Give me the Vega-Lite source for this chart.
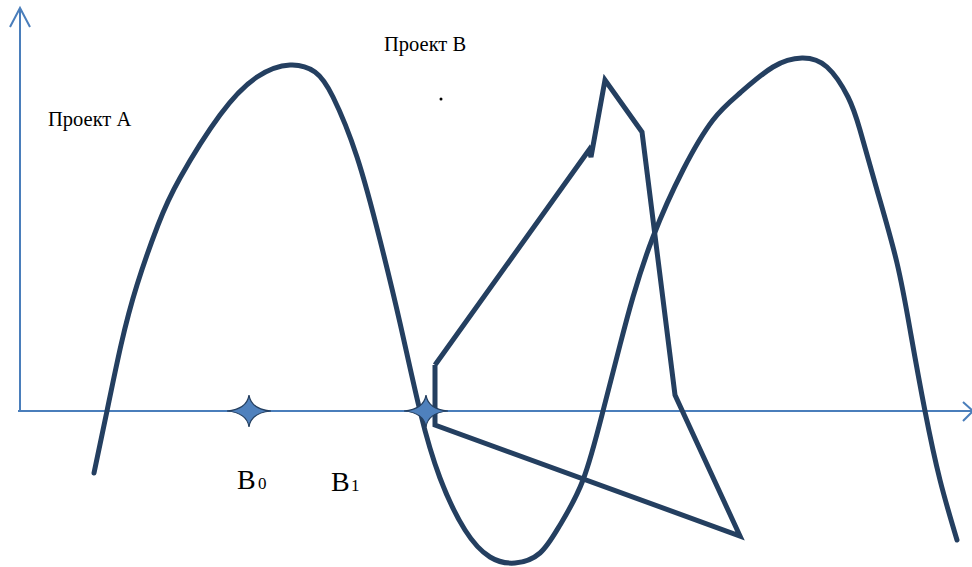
{
  "$schema": "https://vega.github.io/schema/vega-lite/v6.json",
  "width": 972,
  "height": 567,
  "padding": 0,
  "autosize": {"type": "none"},
  "config": {"view": {"stroke": null}},
  "datasets": {
    "axes": [
      {"g": "yaxis", "o": 1, "x": 20, "y": 0},
      {"g": "yaxis", "o": 2, "x": 20, "y": 403},
      {"g": "yarrow", "o": 1, "x": 10, "y": 384},
      {"g": "yarrow", "o": 2, "x": 20, "y": 403},
      {"g": "yarrow", "o": 3, "x": 30, "y": 384},
      {"g": "xaxis", "o": 1, "x": 18, "y": 0},
      {"g": "xaxis", "o": 2, "x": 974, "y": 0},
      {"g": "xarrow", "o": 1, "x": 963, "y": 9},
      {"g": "xarrow", "o": 2, "x": 973, "y": 0},
      {"g": "xarrow", "o": 3, "x": 963, "y": -10}
    ],
    "curveA": [
      {"x": 94, "y": -62}, {"x": 107, "y": 0}, {"x": 121, "y": 66}, {"x": 137, "y": 126},
      {"x": 158, "y": 186}, {"x": 180, "y": 233}, {"x": 220, "y": 296},
      {"x": 257, "y": 334}, {"x": 290, "y": 346}, {"x": 315, "y": 339},
      {"x": 333, "y": 314}, {"x": 357, "y": 254}, {"x": 380, "y": 171}, {"x": 400, "y": 88},
      {"x": 420, "y": 0}, {"x": 440, "y": -67}, {"x": 465, "y": -119}, {"x": 490, "y": -146},
      {"x": 515, "y": -152}, {"x": 540, "y": -142}, {"x": 560, "y": -114}, {"x": 583, "y": -69},
      {"x": 603, "y": 0}, {"x": 620, "y": 66}, {"x": 633, "y": 114}, {"x": 653, "y": 174},
      {"x": 683, "y": 241}, {"x": 713, "y": 291}, {"x": 740, "y": 318}, {"x": 773, "y": 344},
      {"x": 802, "y": 353}, {"x": 827, "y": 344}, {"x": 848, "y": 314}, {"x": 860, "y": 281},
      {"x": 877, "y": 221}, {"x": 897, "y": 148}, {"x": 911, "y": 76}, {"x": 925, "y": 0},
      {"x": 940, "y": -69}, {"x": 957, "y": -129}
    ],
    "polyB": [
      {"o": 1, "x": 435, "y": 46},
      {"o": 2, "x": 589, "y": 261},
      {"o": 3, "x": 591, "y": 254},
      {"o": 4, "x": 605, "y": 331},
      {"o": 5, "x": 642, "y": 279},
      {"o": 6, "x": 675, "y": 16},
      {"o": 7, "x": 740, "y": -125},
      {"o": 8, "x": 435, "y": -14},
      {"o": 9, "x": 435, "y": 46}
    ],
    "stars": [{"x": 249, "y": 0}, {"x": 426, "y": 0}],
    "labels": [
      {"x": 48, "y": 285, "t": "Проект А", "s": 20.5},
      {"x": 384, "y": 360, "t": "Проект В", "s": 20.5},
      {"x": 237, "y": -78, "t": "B", "s": 28},
      {"x": 258, "y": -78, "t": "0", "s": 17},
      {"x": 331, "y": -80, "t": "B", "s": 28},
      {"x": 351, "y": -80, "t": "1", "s": 17}
    ],
    "dot": [{"x": 441, "y": 312}]
  },
  "layer": [
    {
      "data": {"name": "axes"},
      "mark": {"type": "line", "stroke": "#4a7ebb", "strokeWidth": 2},
      "encoding": {
        "x": {"field": "x", "type": "quantitative", "scale": {"domain": [0, 972], "nice": false, "zero": false}, "axis": null},
        "y": {"field": "y", "type": "quantitative", "scale": {"domain": [-156, 411], "nice": false, "zero": false}, "axis": null},
        "detail": {"field": "g"},
        "order": {"field": "o"}
      }
    },
    {
      "data": {"name": "curveA"},
      "mark": {"type": "line", "stroke": "#243f60", "strokeWidth": 5, "interpolate": "natural", "strokeCap": "round"},
      "encoding": {
        "x": {"field": "x", "type": "quantitative"},
        "y": {"field": "y", "type": "quantitative"}
      }
    },
    {
      "data": {"name": "polyB"},
      "mark": {"type": "line", "stroke": "#243f60", "strokeWidth": 5, "strokeJoin": "miter"},
      "encoding": {
        "x": {"field": "x", "type": "quantitative"},
        "y": {"field": "y", "type": "quantitative"},
        "order": {"field": "o"}
      }
    },
    {
      "data": {"name": "stars"},
      "mark": {"type": "point", "filled": true, "fill": "#4f81bd", "stroke": "#243f60", "strokeWidth": 1.2, "opacity": 1, "size": 1936,
        "shape": "M-1,0 Q-0.1,-0.08 0,-0.72 Q0.1,-0.08 1,0 Q0.1,0.08 0,0.72 Q-0.1,0.08 -1,0 Z"},
      "encoding": {
        "x": {"field": "x", "type": "quantitative"},
        "y": {"field": "y", "type": "quantitative"}
      }
    },
    {
      "data": {"name": "labels"},
      "mark": {"type": "text", "font": "Liberation Serif", "align": "left", "baseline": "alphabetic", "color": "#000000"},
      "encoding": {
        "x": {"field": "x", "type": "quantitative"},
        "y": {"field": "y", "type": "quantitative"},
        "text": {"field": "t"},
        "size": {"field": "s", "type": "quantitative", "scale": null}
      }
    },
    {
      "data": {"name": "dot"},
      "mark": {"type": "point", "filled": true, "color": "#000000", "opacity": 1, "size": 9},
      "encoding": {
        "x": {"field": "x", "type": "quantitative"},
        "y": {"field": "y", "type": "quantitative"}
      }
    }
  ]
}
